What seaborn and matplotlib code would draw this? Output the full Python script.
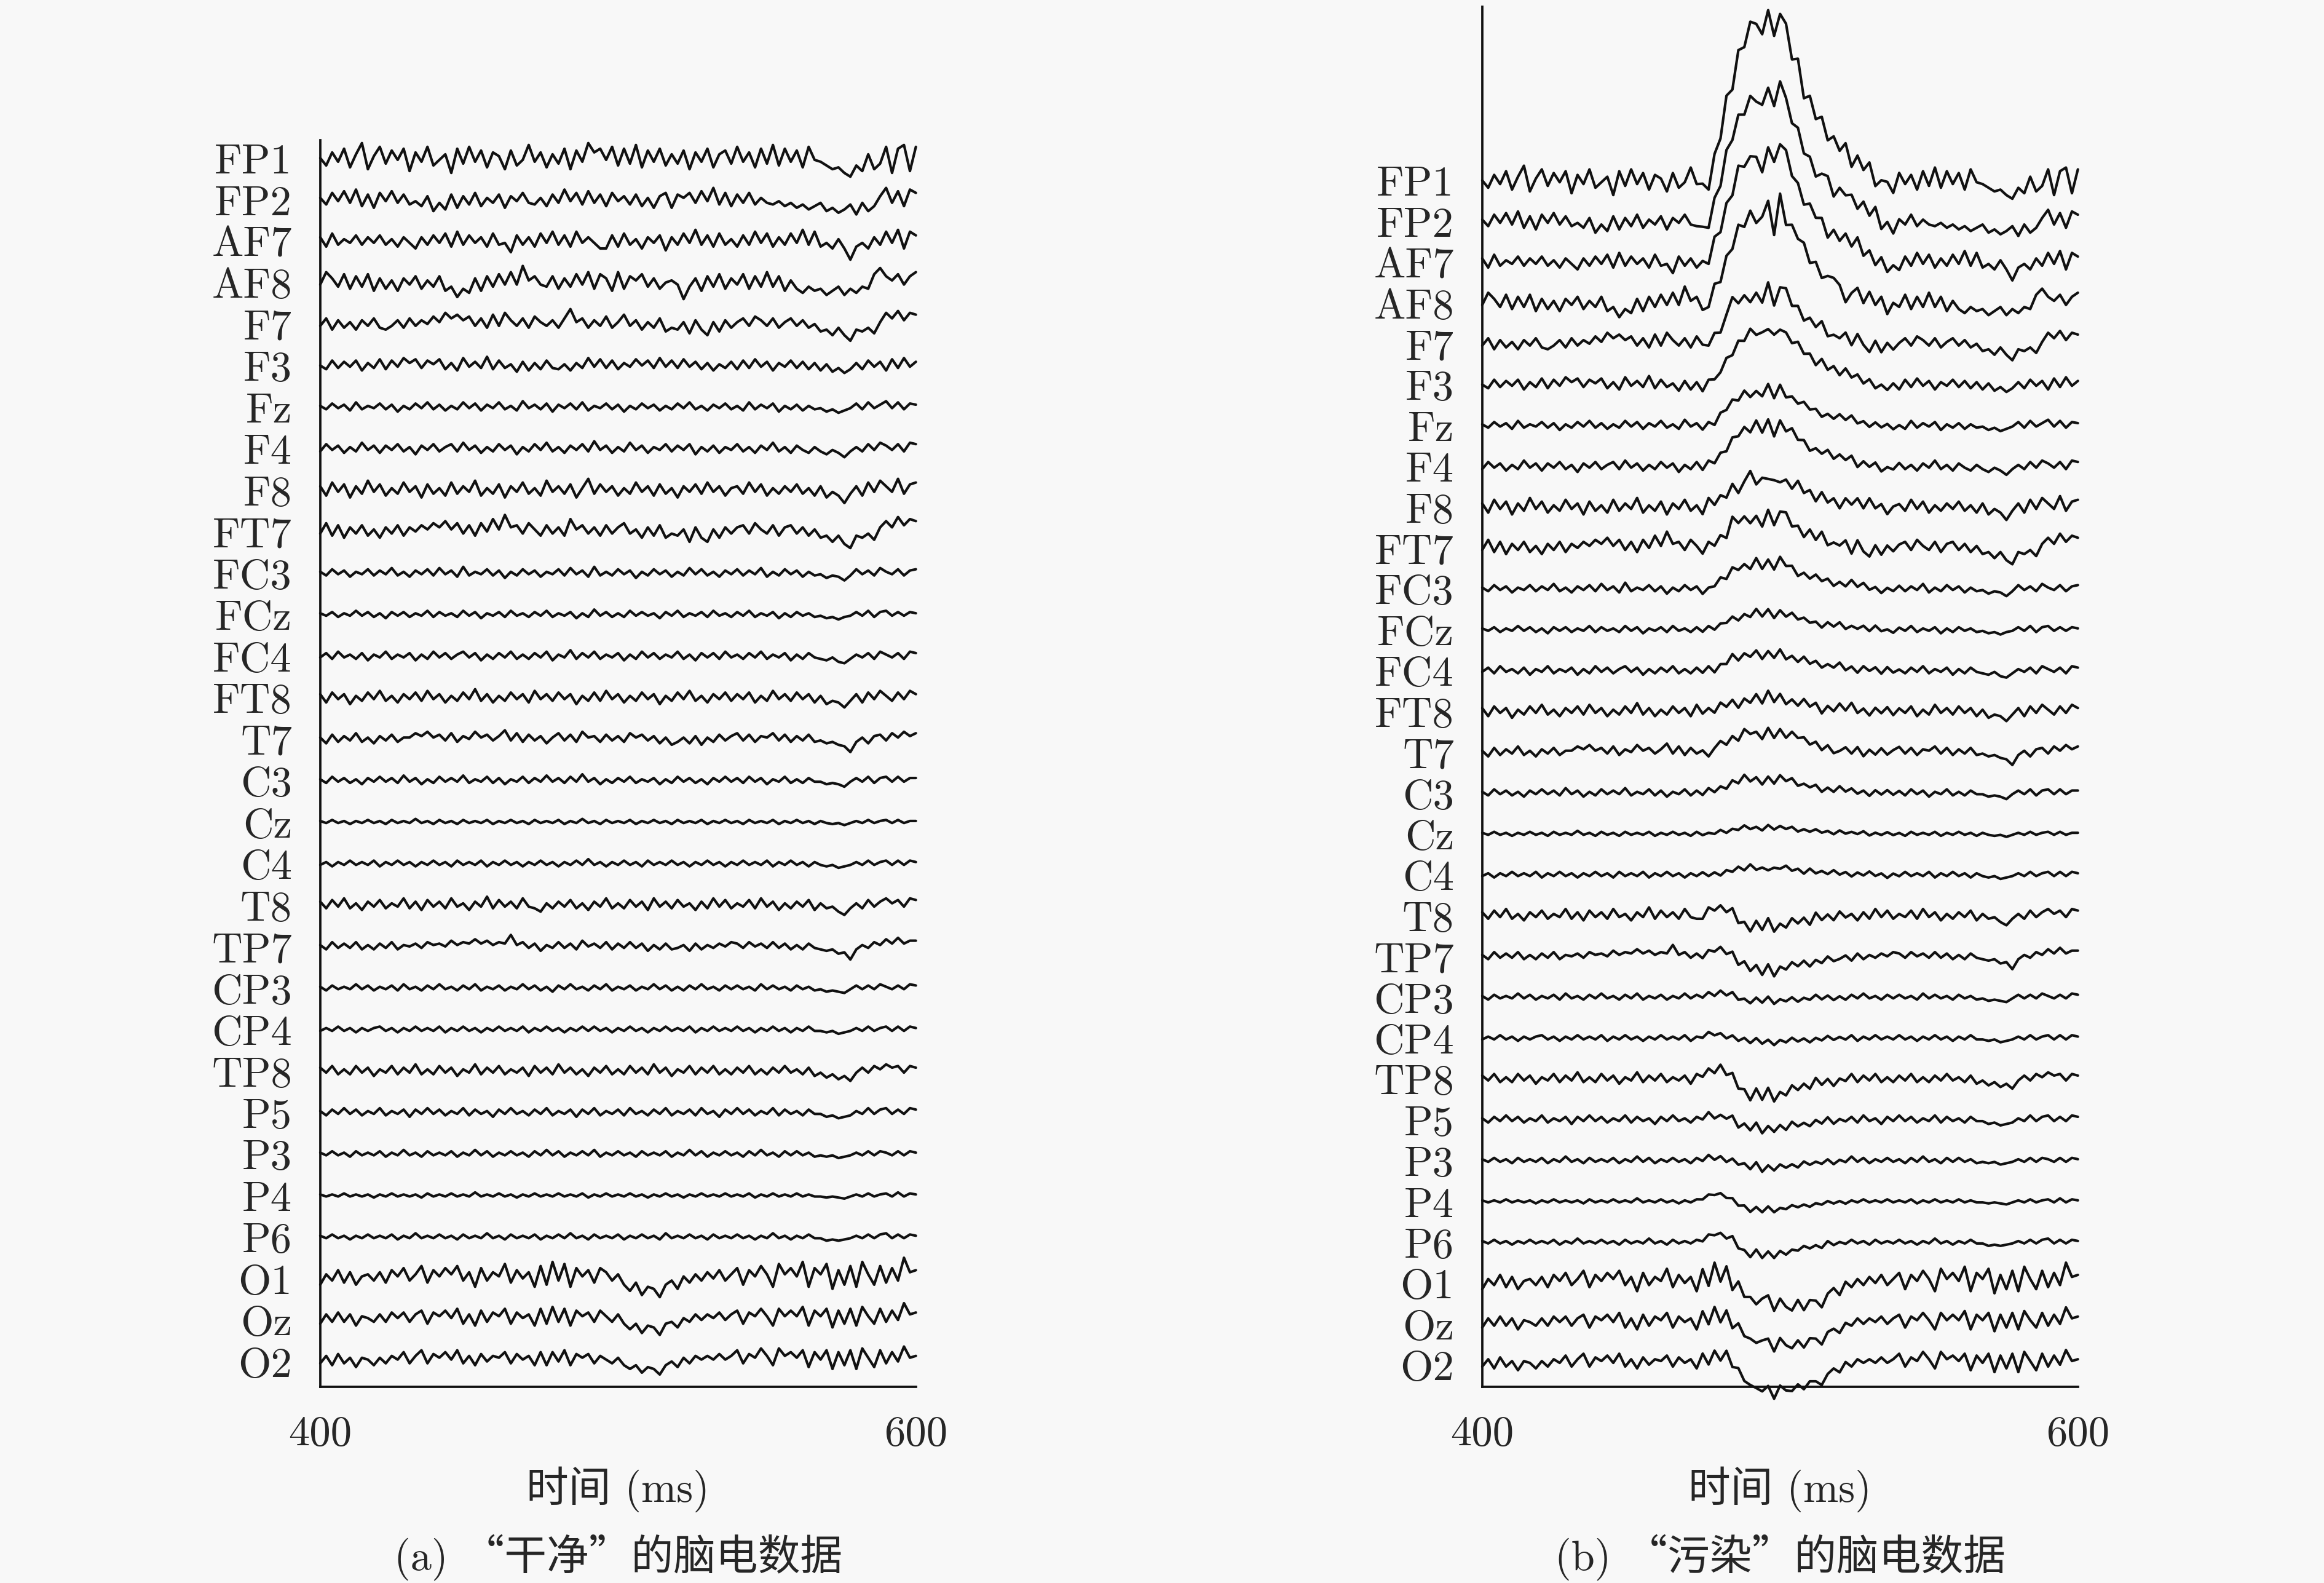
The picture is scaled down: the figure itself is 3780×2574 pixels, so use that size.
import numpy as np
import pandas as pd
import matplotlib
matplotlib.use("Agg")
import matplotlib.pyplot as plt
import seaborn as sns

# ---------------- data ----------------
channels = ["FP1", "FP2", "AF7", "AF8", "F7", "F3", "Fz", "F4", "F8", "FT7",
            "FC3", "FCz", "FC4", "FT8", "T7", "C3", "Cz", "C4", "T8", "TP7",
            "CP3", "CP4", "TP8", "P5", "P3", "P4", "P6", "O1", "Oz", "O2"]

t_start, t_end = 400, 600          # ms
xtick_values = [400, 600]
xtick_labels = ["400", "600"]

# clean EEG traces (arbitrary units, one sample every 2 ms, 400..600 ms)
fp1 = [0,-4,3,-2,5,-5,2,8,-6,1, 6,-3,4,-1,5,-7,3,-2,6,-4, -1,2,-8,5,-3,6,-2,4,-5,3, 1,-6,4,-4,-1,7,-2,3,-5,2,
       -3,5,-6,4,-2,8,3,5,-1,6, -4,5,-3,7,-5,4,-2,5,-4,2, -3,4,-6,3,-2,5,-5,2,4,-3, 6,-2,3,-5,5,-3,7,-4,5,-2,
       4,-5,6,-1,-2,-4,-6,-5,-8,-10, -4,-7,2,-6,-3,6,-8,5,7,-7, 6]
fp2 = [1,-3,4,-1,5,-2,6,-4,3,-5, 4,-1,5,-2,3,-3,-1,-4,2,-7, -2,-6,3,-5,2,-3,4,-4,1,-2, 3,-5,2,-1,4,-2,-3,1,-4,3,
       -2,6,-1,4,-3,5,-2,3,-4,4, -1,2,-3,3,-4,1,-5,2,4,-5, 3,1,4,-2,5,-1,7,-3,4,-4, 3,-2,4,-3,1,-2,-3,-1,-4,-2,
       -5,-3,-6,-4,-2,-7,-5,-8,-6,-3, -9,-2,-7,-4,2,7,-2,5,-4,6, 4]
af7 = [2,-3,4,-2,1,-1,3,-2,2,-1, 3,-2,1,-3,2,-1,-4,2,-2,3, -1,4,-3,5,-2,3,-1,2,-3,4, -2,-1,-6,3,-2,2,-3,4,-1,5,
       -2,3,-3,5,-1,2,-1,-4,-4,3, -3,4,-2,1,-4,2,-1,3,-5,2, -2,4,-1,6,-2,3,-3,4,-2,1, -3,3,-2,5,-1,4,-3,2,-2,4,
       -1,6,-2,5,-3,-1,-4,1,-4,-10, -3,-1,-4,2,-2,5,-1,6,-4,5, 3]
af8 = [-1,5,2,-2,4,-3,3,-2,4,-4, 2,-3,1,-4,2,-1,3,-3,1,-2, 3,-4,-2,-7,-3,-5,2,-4,3,-2, 4,-1,5,-1,8,1,3,-1,-2,3,
       -3,2,-2,4,-1,5,-3,4,2,-4, 5,-3,3,1,4,-2,2,-3,0,1, -1,-8,-2,2,-4,3,-2,4,-3,2, -1,4,-3,3,-2,5,-2,3,-4,1,
       -3,-5,-2,-4,-3,-6,-4,-2,-6,-3, -5,-2,-3,4,7,3,1,4,-1,3, 5]
f7 = [-1,3,-3,2,-2,1,-3,2,-1,3, -2,-3,-1,2,-2,3,-1,2,0,4, 1,6,3,5,2,4,-1,3,-2,5, -1,6,2,-1,3,-2,4,1,-1,2,
      -2,3,8,1,3,-2,2,-1,4,-2, 1,5,-1,2,-3,1,-2,3,-4,-2, -3,1,-5,2,-3,-6,1,-4,2,-2, 1,3,-1,4,2,-1,3,-2,1,3,
      -1,2,-2,0,-4,-3,-6,-2,-6,-9, -3,-4,-2,-5,1,6,3,7,2,6, 5]
f3 = [0,-3,4,-2,3,-1,4,-4,2,-2, 5,-3,4,-1,6,2,5,-2,4,1, 5,-3,2,-4,6,-1,3,-2,7,-3, 4,-2,1,-5,3,-4,2,-3,4,-2,
      -3,1,-4,2,-2,6,-1,5,-2,4, -3,2,-1,5,0,4,-2,6,-1,4, -2,5,-1,3,-3,2,-4,1,-2,3, -3,4,-2,5,-1,3,-4,2,-1,4,
      -2,3,-3,2,-4,1,-5,-2,-6,-3, 2,-3,4,-1,3,-4,5,-2,6,-1, 3]
fz = [1,-2,3,-1,2,-3,4,-2,1,-1, 3,-2,2,-4,1,-2,3,-1,4,-2, 2,-3,1,-2,4,-1,3,-3,2,-1, 4,-2,1,-3,5,-1,2,-2,3,-4,
      2,-1,3,-2,4,-3,1,-1,3,-2, 2,-4,1,-2,3,-1,2,-3,1,-2, 3,-1,4,-2,1,-3,2,-1,3,-2, 1,-3,4,-2,2,-1,3,-4,1,-2,
      2,-3,1,-2,-1,-4,-2,-5,-3,-1, 3,-2,4,-1,2,5,-1,4,-2,3, 2]
f4 = [-2,3,-1,2,-3,1,-2,4,-1,2, -3,2,-1,3,-2,1,-4,2,-1,3, -2,1,3,-2,4,-1,2,-3,1,-2, 3,-1,2,-4,1,-2,3,-1,4,-2,
      1,-3,2,-1,3,-2,5,-1,2,-3, 1,-2,4,-1,2,-3,1,-1,3,-2, 2,-1,3,-4,1,-2,2,-3,1,-1, 3,-2,1,-3,2,-1,4,-2,1,-3,
      2,-1,-3,1,-2,-4,-1,-3,-6,-2, 1,-2,3,-1,4,2,-1,3,-2,4, 3]
f8 = [2,-3,4,-1,3,-4,2,-2,5,-1, 3,-3,1,-2,4,-1,2,-4,3,-2, 1,-3,4,-2,2,-1,5,-3,1,-2, 3,-4,2,-1,4,-2,1,-3,5,-1,
      2,-2,3,-4,1,6,-2,3,-1,2, -3,1,-2,4,-1,2,-3,3,-2,1, -4,2,-1,3,-2,4,-1,2,-3,1, 2,-2,4,-1,3,-3,1,-2,2,-1,
      3,-2,1,-3,2,-4,-1,-3,-7,-2, 2,-3,4,-1,5,2,-1,6,-2,3, 4]
ft7 = [-1,4,-2,3,-3,2,-1,3,-2,1, -3,2,-1,3,-2,2,0,3,1,4, 2,5,1,4,-1,3,-2,4,0,6, 1,8,2,3,-1,4,1,-2,3,-1,
       2,-2,6,1,3,-1,2,-2,3,-1, 2,4,-1,1,-3,2,-2,3,-3,-1, -2,1,-5,2,-3,-5,1,-3,2,-1, 2,3,-1,4,1,-1,3,-2,2,3,
       -1,2,-2,1,-3,-2,-5,-2,-6,-8, -2,-3,-1,-4,2,5,2,7,3,6, 5]
fc3 = [1,-2,3,-1,2,-3,1,-1,3,-2, 2,-1,4,-2,1,-3,2,-1,3,-2, 4,-1,2,-3,5,-2,1,-1,3,-2, 2,-4,1,-2,3,-1,2,-3,1,-1,
       3,-2,4,-1,2,-3,5,-2,1,-2, 3,-1,2,-4,1,-2,3,-1,2,-3, 1,-2,4,-1,3,-2,1,-3,2,-1, 3,-2,2,-1,4,-3,1,-2,3,-1,
       2,-3,1,-2,-1,-4,-2,-3,-6,-2, 3,-1,2,-2,4,1,-1,3,-2,2, 3]
fcz = [1,-1,2,-2,1,-1,3,-1,2,-2, 1,-3,2,-1,2,-2,1,-1,3,-2, 2,-1,1,-2,3,-1,2,-3,1,-1, 2,-2,3,-1,1,-2,2,-1,3,-2,
       1,-1,2,-3,1,-2,4,-1,2,-2, 1,-2,3,-1,2,-1,1,-3,2,-1, 3,-2,1,-1,2,-2,3,-1,1,-2, 2,-1,3,-2,1,-1,2,-3,1,-2,
       2,-1,1,-2,-1,-3,-2,-4,-2,-1, 2,-1,3,-2,2,3,-1,2,-1,2, 1]
fc4 = [-1,2,-2,3,-1,1,-2,2,-3,1, -1,3,-2,1,-1,2,-3,1,-2,3, -1,2,-2,1,3,-1,2,-3,1,-2, 2,-1,3,-2,1,-2,2,-1,3,-3,
       1,-1,4,-2,2,-1,3,-2,1,-1, 2,-3,1,-2,3,-1,2,-2,1,-1, 3,-2,1,-3,2,-1,2,-2,3,-1, 1,-2,2,-1,3,-2,1,-1,2,-3,
       1,-2,2,-1,-2,-3,-1,-4,-5,-2, 1,-1,2,-2,3,1,-1,2,-2,3, 2]
ft8 = [2,-3,3,-1,2,-4,1,-2,3,-1, 4,-2,1,-3,2,-1,3,-2,4,-1, 2,-3,1,-2,3,-1,5,-2,2,-3, 1,-2,3,-1,2,-3,4,-1,2,-2,
       3,-1,2,-4,1,-2,3,-2,4,-1, 2,-3,1,-2,3,-1,2,-4,1,-2, 3,-1,4,-2,1,-3,2,-1,3,-2, 2,-1,3,-3,1,-2,4,-1,2,-2,
       3,-1,2,-3,1,-4,-2,-3,-6,-2, 2,-3,3,-1,4,1,-2,3,-1,4, 2]
t7 = [1,-3,3,-2,2,-1,4,-2,1,-3, 2,-1,3,-2,1,1,4,2,5,1, 3,-1,4,-2,2,0,5,1,3,-1, 2,6,-1,4,-2,3,-1,2,-3,1,
      4,-1,3,-2,5,1,2,-2,3,-1, 2,-2,4,1,3,-1,2,-3,1,-4, -2,1,-3,2,-4,1,-2,3,-1,2, 4,-1,3,-2,2,1,4,-1,3,-2,
      2,-1,3,-2,-1,-3,-2,-4,-5,-9, -2,1,-3,2,3,-1,4,1,5,2, 4]
c3 = [1,-2,3,-1,2,-2,1,-3,2,-1, 3,-1,2,-2,4,-1,2,-3,1,-2, 3,-1,2,-1,4,-2,1,-1,3,-2, 2,-3,1,-1,3,-2,2,-1,4,-1,
      2,-2,3,-1,5,-1,2,-3,1,-2, 2,-1,3,-2,1,-1,2,-3,1,-2, 3,-1,2,-2,1,-3,2,-1,3,-1, 2,-2,3,-1,2,-3,1,-1,3,-2,
      1,-2,2,-1,-1,-3,-2,-3,-5,-1, 2,-1,3,-2,2,3,-1,3,-1,2, 2]
cz = [1,-1,2,-1,1,-2,1,-1,2,-1, 1,-2,2,-1,1,-1,3,-1,1,-2, 2,-1,1,-2,2,-1,1,-1,2,-2, 1,-1,2,-1,1,-2,2,-1,1,-1,
      2,-2,1,-1,3,-1,1,-2,2,-1, 1,-1,2,-2,1,-1,2,-1,1,-2, 2,-1,1,-1,2,-2,1,-1,2,-1, 1,-2,2,-1,1,-1,2,-2,1,-1,
      2,-1,1,-2,1,-1,-2,-1,-3,-1, 1,-1,2,-1,1,2,-1,2,-1,1, 1]
c4 = [-1,1,-2,1,-1,2,-1,1,-1,2, -2,1,-1,2,-1,1,-2,1,-1,2, -1,1,-2,2,-1,1,-1,2,-2,1, -1,2,-1,1,-2,1,-1,2,-1,1,
      -2,1,-1,2,-1,3,-1,1,-2,1, -1,2,-1,1,-2,2,-1,1,-1,2, -1,1,-2,1,-1,2,-1,1,-2,1, -1,2,-1,1,-1,2,-2,1,-1,2,
      -1,1,-2,1,-1,-2,-1,-3,-2,-1, 1,-1,2,-1,1,2,-1,2,-1,2, 1]
t8 = [2,-2,3,-1,4,-2,1,-3,2,-1, 3,-2,1,-1,4,-2,2,-3,3,-1, 2,-2,4,-1,1,-3,2,-1,5,-2, 3,-1,2,-2,4,-1,-2,-4,1,-2,
      2,-1,3,-2,1,-3,2,-1,4,-2, 1,-2,3,-1,2,-3,4,-1,2,-2, 3,-1,1,-3,2,-2,4,-1,3,-2, 1,-1,3,-2,4,-1,2,-3,1,-2,
      2,-1,3,-3,1,-2,-1,-4,-6,-2, 1,-2,3,-1,2,4,1,3,-1,4, 3]
tp7 = [1,-2,3,-1,2,-1,3,-2,1,-2, 2,-1,3,-2,1,0,2,-1,3,1, 2,0,4,1,3,2,5,2,4,1, 3,2,8,1,3,-1,2,-3,1,-1,
       3,-1,2,-2,4,0,2,-1,3,-2, 2,-1,3,-1,2,-3,1,-2,2,-2, -1,1,-3,2,-2,1,-1,2,0,3, 2,-1,3,0,2,-1,3,-1,2,-2,
       1,-2,2,-1,-2,-3,-2,-5,-4,-9, -2,1,-1,3,1,5,2,6,2,4, 4]
cp3 = [1,-2,2,-1,1,-1,3,-1,2,-2, 1,-1,2,-2,3,-1,1,-2,2,-1, 3,-1,1,-2,2,-1,3,-2,1,-1, 2,-2,1,-1,3,-1,2,-2,1,-3,
       2,-1,3,-1,1,-2,2,-1,3,-2, 1,-1,2,-2,1,-1,3,-1,2,-2, 1,-2,2,-1,3,-1,1,-2,2,-1, 2,-1,1,-2,3,-1,2,-1,1,-2,
       2,-1,1,-2,-1,-3,-2,-3,-4,-1, 2,-1,2,-1,3,1,-1,2,-1,3, 2]
cp4 = [-1,1,-1,2,-1,1,-2,1,-1,1, 2,-1,1,-2,1,-1,2,-1,1,-1, 2,-2,1,-1,2,-1,1,-2,1,-1, 2,-1,1,-1,2,-2,1,-1,2,-1,
       1,-2,1,-1,2,-1,2,-1,1,-2, 1,-1,2,-1,1,-2,1,-1,2,-1, 1,-1,2,-2,1,-1,2,-1,1,-1, 2,-1,1,-2,1,-1,2,-1,1,-2,
       1,-1,2,-1,-1,-2,-1,-3,-2,-1, 1,-1,2,-1,1,2,-1,2,-1,2, 1]
tp8 = [2,-1,3,-2,1,-2,3,-1,2,-3, 1,-1,3,-2,2,-1,4,-2,1,-2, 3,-1,2,-3,1,-1,4,-2,2,-1, 3,-2,1,-1,2,-3,3,-1,2,-2,
       4,-1,2,-2,1,-3,2,-1,3,-2, 1,-2,3,-1,2,-2,4,-1,2,-3, 1,-1,3,-2,2,-1,3,-2,1,-2, 2,-1,3,-2,1,-2,2,-1,3,-1,
       1,-2,2,-3,-1,-4,-2,-5,-3,-6, -1,2,-1,3,1,4,2,3,-1,3, 2]
p5 = [1,-2,2,-1,3,-1,2,-2,1,-1, 3,-2,1,-1,2,-3,2,-1,3,-1, 2,-2,1,-1,3,-2,2,-1,1,-3, 2,-1,3,-1,1,-2,2,-1,3,-2,
      1,-1,2,-3,2,-1,3,-2,1,-1, 2,-2,3,-1,1,-2,2,-1,3,-2, 1,-1,2,-2,3,-1,1,-3,2,-1, 3,-1,2,-2,1,-1,3,-2,2,-1,
      1,-2,2,-1,-1,-3,-2,-4,-3,-2, 1,-1,3,-1,2,3,-1,2,-1,3, 2]
p3 = [1,-1,2,-1,1,-2,2,-1,1,-1, 2,-2,1,-1,3,-1,1,-2,2,-1, 1,-1,2,-2,1,-1,3,-1,2,-2, 1,-1,2,-1,1,-2,2,-1,3,-1,
      2,-2,1,-1,2,-1,3,-2,1,-1, 2,-1,1,-2,2,-1,1,-1,2,-2, 1,-1,3,-1,2,-2,1,-1,2,-1, 1,-2,2,-1,3,-1,1,-2,2,-1,
      2,-1,1,-2,-1,-2,-1,-3,-2,-1, 1,-1,2,-1,2,1,-1,2,-1,2, 1]
p4 = [1,-1,1,-1,2,-1,1,-1,1,-2, 1,-1,2,-1,1,-1,1,-2,2,-1, 1,-1,2,-1,1,-1,3,-1,1,-1, 2,-1,1,-2,1,-1,2,-1,1,-1,
      2,-1,1,-1,2,-2,1,-1,2,-1, 1,-1,2,-1,1,-2,1,-1,2,-1, 1,-2,1,-1,2,-1,1,-1,2,-1, 1,-1,2,-2,1,-1,2,-1,1,-1,
      2,-1,1,-1,-1,-2,-1,-2,-3,-1, 1,-1,2,-1,1,2,-1,3,-1,2, 1]
p6 = [1,-1,2,-1,1,-2,1,-1,2,-1, 1,-1,2,-2,1,-1,3,-1,1,-1, 2,-1,1,-2,2,-1,1,-1,3,-1, 1,-2,2,-1,1,-1,2,-2,1,-1,
      2,-1,3,-1,1,-2,2,-1,1,-1, 2,-2,1,-1,2,-1,1,-2,3,-1, 1,-1,2,-1,1,-2,2,-1,1,-1, 2,-1,1,-2,1,-1,3,-1,1,-2,
      1,-1,2,-1,-1,-3,-2,-3,-2,-1, 1,-1,2,-1,2,3,-1,2,-1,2, 1]
o1 = [-3,2,-1,4,-2,3,-3,1,2,-1, 3,-2,4,1,5,-1,2,6,-2,4, 1,5,2,6,-1,3,-4,5,-1,3, 1,7,-2,4,0,3,-4,6,-3,8,
      -1,7,-4,5,1,4,-2,5,3,-1, 2,-3,-6,-2,-8,-4,-5,-9,-3,-1, -5,1,-2,2,-1,3,0,4,-1,2, 5,-3,4,1,6,2,-4,7,2,5,
      1,8,-4,5,2,7,-5,4,-3,6, -4,8,2,-3,6,-2,5,-1,10,3, 4]
oz = [-2,3,-1,4,-1,3,-3,2,1,-1, 3,-1,4,1,4,-1,3,5,-2,4, 2,5,1,6,-2,3,-3,5,-1,4, 2,6,-2,4,1,3,-3,6,-2,7,
      -1,6,-3,5,2,4,-1,5,2,-1, 3,-2,-5,-2,-7,-3,-4,-8,-2,-1, -4,1,-1,3,0,3,1,4,0,3, 5,-2,4,2,6,2,-3,6,2,5,
      2,7,-3,5,2,6,-4,5,-2,6, -3,7,2,-2,6,-1,5,0,9,3, 4]
o2 = [-1,3,-2,4,-1,2,-3,2,1,-2, 2,-1,3,1,5,-1,3,6,-1,4, 2,5,1,6,-1,3,-2,4,0,3, 2,5,-1,4,1,3,-2,5,-2,5,
      0,6,-2,4,2,4,-1,3,1,-1, 2,-2,-4,-2,-6,-3,-4,-7,-2,0, -3,2,-1,3,1,3,1,4,1,3, 6,-1,4,2,7,3,-2,7,3,5,
      2,6,-3,5,1,6,-4,5,-2,6, -4,7,2,-3,6,-1,5,0,8,2, 3]

clean_traces = [fp1, fp2, af7, af8, f7, f3, fz, f4, f8, ft7, fc3, fcz, fc4, ft8, t7,
                c3, cz, c4, t8, tp7, cp3, cp4, tp8, p5, p3, p4, p6, o1, oz, o2]
# scale of each trace (in channel spacings per unit)
trace_gain = [0.045, 0.04, 0.045, 0.05, 0.045, 0.03, 0.028, 0.035, 0.045, 0.05,
              0.03, 0.03, 0.035, 0.04, 0.035, 0.03, 0.025, 0.035, 0.04, 0.035,
              0.03, 0.035, 0.04, 0.035, 0.033, 0.025, 0.03, 0.05, 0.045, 0.045]

# artifact waveforms (2 ms steps)
peak_start = 472
peak_profile = [0, -0.05, 0, 0.13, 0.27, 0.43, 0.58, 0.70, 0.78, 0.82,
                0.86, 0.78, 0.98, 0.76, 0.99, 0.84, 0.72, 0.62, 0.52, 0.44,
                0.37, 0.31, 0.27, 0.23, 0.20, 0.17, 0.14, 0.11, 0.08, 0.05,
                0.02, -0.02, -0.05, -0.04, -0.02]
bump_start = 472
bump_profile = [0, 0.4, 0.8, 1.0, 0.85, 0.6, 0.3, 0]
dip_start = 484
dip_profile = [0, -0.35, -0.65, -0.9, -0.7, -1.05, -0.75, -1.05, -0.8, -0.72,
               -0.62, -0.52, -0.44, -0.36, -0.3, -0.24, -0.18, -0.12, -0.07, -0.03, 0]
# artifact amplitude per channel
peak_amp = [4.3, 3.5, 3.05, 2.45, 1.35, 1.45, 0.95, 1.1, 0.75, 0.8,
            0.7, 0.45, 0.45, 0.35, 0.5, 0.38, 0.17, 0.18, 0, 0,
            0, 0, 0, 0, 0, 0, 0, 0, 0, 0]
bump_amp = [0, 0, 0, 0, 0, 0, 0, 0, 0, 0,
            0, 0, 0, 0, 0, 0, 0, 0, 0.2, 0.15,
            0.12, 0.1, 0.22, 0.1, 0.05, 0.18, 0.2, 0.1, 0.1, 0.12]
dip_amp = [0, 0, 0, 0, 0, 0, 0, 0, 0, 0,
           0, 0, 0, 0, 0, 0, 0, 0, 0.3, 0.4,
           0.1, 0.1, 0.45, 0.25, 0.2, 0.23, 0.34, 0.6, 0.6, 0.75]

# ---------------- style ----------------
sns.set_style("white")
plt.rcParams["font.family"] = ["cmr10", "Noto Sans CJK SC"]
plt.rcParams["axes.formatter.use_mathtext"] = True
plt.rcParams["axes.unicode_minus"] = False
bg = "#f8f8f8"
FS = 16.5
LW = 1.0


def add_profile(sig, t, start, profile, amp):
    for j, v in enumerate(profile):
        idx = int(np.abs(t - (start + 2 * j)).argmin())
        sig[idx] += amp * v
    return sig


def build(contaminated):
    rows = []
    n = len(channels)
    for i, name in enumerate(channels):
        vals = np.asarray(clean_traces[i], dtype=float)
        t = np.linspace(t_start, t_end, len(vals))
        sig = vals * trace_gain[i]
        if contaminated:
            sig = add_profile(sig, t, peak_start, peak_profile, peak_amp[i])
            sig = add_profile(sig, t, bump_start, bump_profile, bump_amp[i])
            sig = add_profile(sig, t, dip_start, dip_profile, dip_amp[i])
        pos = n - 1 - i
        rows.append(pd.DataFrame({"time": t, "value": pos + sig, "channel": name}))
    return pd.concat(rows, ignore_index=True)


fig = plt.figure(figsize=(12.6, 8.5833), dpi=300)
fig.patch.set_facecolor(bg)

panels = [
    dict(rect=[0.1378, 0.1239, 0.2563, 0.7872], ylim=(-0.61, 29.43), cont=False,
         cap="(a) “干净”的脑电数据"),
    dict(rect=[0.6378, 0.1239, 0.2563, 0.8714], ylim=(-0.54, 33.25), cont=True,
         cap="(b) “污染”的脑电数据"),
]

n = len(channels)
for p in panels:
    ax = fig.add_axes(p["rect"])
    ax.set_facecolor("none")
    df = build(p["cont"])
    sns.lineplot(data=df, x="time", y="value", units="channel", estimator=None,
                 color="#111111", linewidth=LW, sort=False, ax=ax, legend=False,
                 clip_on=False)
    ax.set_xlim(t_start, t_end)
    ax.set_ylim(*p["ylim"])
    ax.set_yticks([n - 1 - i for i in range(n)])
    ax.set_yticklabels(channels, fontsize=FS)
    ax.set_xticks(xtick_values)
    ax.set_xticklabels(xtick_labels, fontsize=FS)
    ax.tick_params(axis="y", length=0, pad=11)
    ax.tick_params(axis="x", length=0, pad=11)
    ax.set_xlabel("")
    ax.set_ylabel("")
    for s in ["top", "right"]:
        ax.spines[s].set_visible(False)
    for s in ["left", "bottom"]:
        ax.spines[s].set_linewidth(0.9)
        ax.spines[s].set_color("#111111")
    x0, _, w, _ = p["rect"]
    cx = x0 + w / 2
    fig.text(cx, 0.0594, "时间 (ms)", ha="center", va="center", fontsize=FS)
    fig.text(cx, 0.0167, p["cap"], ha="center", va="center", fontsize=FS)

fig.savefig("out.png", dpi=300, facecolor=bg)
